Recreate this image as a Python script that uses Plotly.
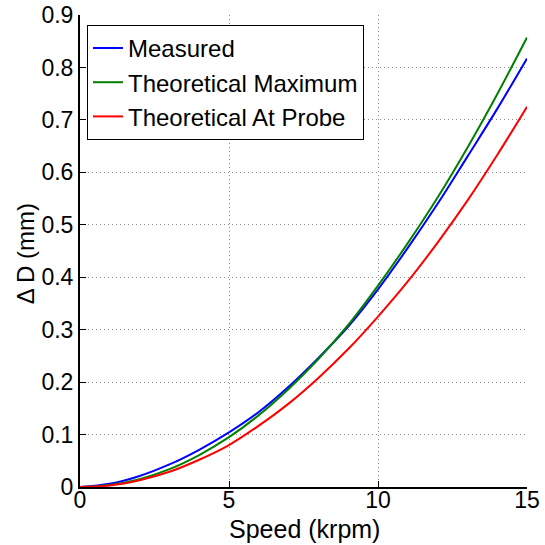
import plotly.graph_objects as go

speed = [0, 1, 2, 3, 4, 5, 6, 7, 8, 9, 10, 11, 12, 13, 14, 15]
measured = [0.0, 0.006, 0.021, 0.043, 0.071, 0.104, 0.143, 0.191, 0.246, 0.306, 0.377, 0.456, 0.540, 0.630, 0.721, 0.817]
theo_max = [0.0, 0.004, 0.015, 0.034, 0.061, 0.095, 0.137, 0.187, 0.244, 0.309, 0.384, 0.465, 0.552, 0.647, 0.749, 0.857]
theo_probe = [0.0, 0.003, 0.013, 0.029, 0.052, 0.080, 0.117, 0.159, 0.208, 0.263, 0.325, 0.392, 0.466, 0.546, 0.633, 0.725]

names = ["Measured", "Theoretical Maximum", "Theoretical At Probe"]
colors = ["#0000ff", "#008000", "#ff0000"]
x_ticks = [0, 5, 10, 15]
y_ticks = [0, 0.1, 0.2, 0.3, 0.4, 0.5, 0.6, 0.7, 0.8, 0.9]
y_tick_labels = ["0", "0.1", "0.2", "0.3", "0.4", "0.5", "0.6", "0.7", "0.8", "0.9"]
x_title = "Speed (krpm)"
y_title = "Δ D (mm)"

fig = go.Figure()
for name, ys, c in zip(names, [measured, theo_max, theo_probe], colors):
    fig.add_trace(go.Scatter(x=speed, y=ys, mode="lines", name=name,
                             line=dict(color=c, width=2, shape="spline")))

font = "Liberation Sans, Arial, sans-serif"
fig.update_layout(
    width=545, height=545,
    margin=dict(l=80, r=18, t=15, b=58),
    paper_bgcolor="white", plot_bgcolor="white",
    font=dict(family=font, color="black", size=23),
    showlegend=True,
    legend=dict(x=0.0157, y=0.979, xanchor="left", yanchor="top",
                bgcolor="white", bordercolor="black", borderwidth=1,
                font=dict(size=24, family=font, color="black"),
                tracegroupgap=0),
    annotations=[
        dict(text=x_title, xref="paper", yref="paper", x=0.503, y=-0.089,
             xanchor="center", yanchor="middle", showarrow=False,
             font=dict(size=25, family=font, color="black")),
        dict(text=y_title, xref="paper", yref="paper", x=-0.122, y=0.494,
             xanchor="center", yanchor="middle", showarrow=False, textangle=-90,
             font=dict(size=24, family=font, color="black")),
    ],
)
grid_kw = dict(showgrid=True, gridcolor="#8c8c8c", griddash="1px,3px", gridwidth=1)
fig.update_xaxes(range=[0, 15], tickvals=x_ticks, ticktext=[str(v) for v in x_ticks],
                 showline=True, linecolor="black", linewidth=2, mirror=False,
                 ticks="inside", ticklen=6, tickwidth=1, tickcolor="black",
                 zeroline=False, tickfont=dict(size=23), automargin=False,
                 ticklabelstandoff=-9, **grid_kw)
fig.update_yaxes(range=[0, 0.9], tickvals=y_ticks, ticktext=y_tick_labels,
                 showline=True, linecolor="black", linewidth=2, mirror=False,
                 ticks="inside", ticklen=6, tickwidth=1, tickcolor="black",
                 zeroline=False, tickfont=dict(size=23), automargin=False,
                 **grid_kw)

fig.write_html("out.html")
